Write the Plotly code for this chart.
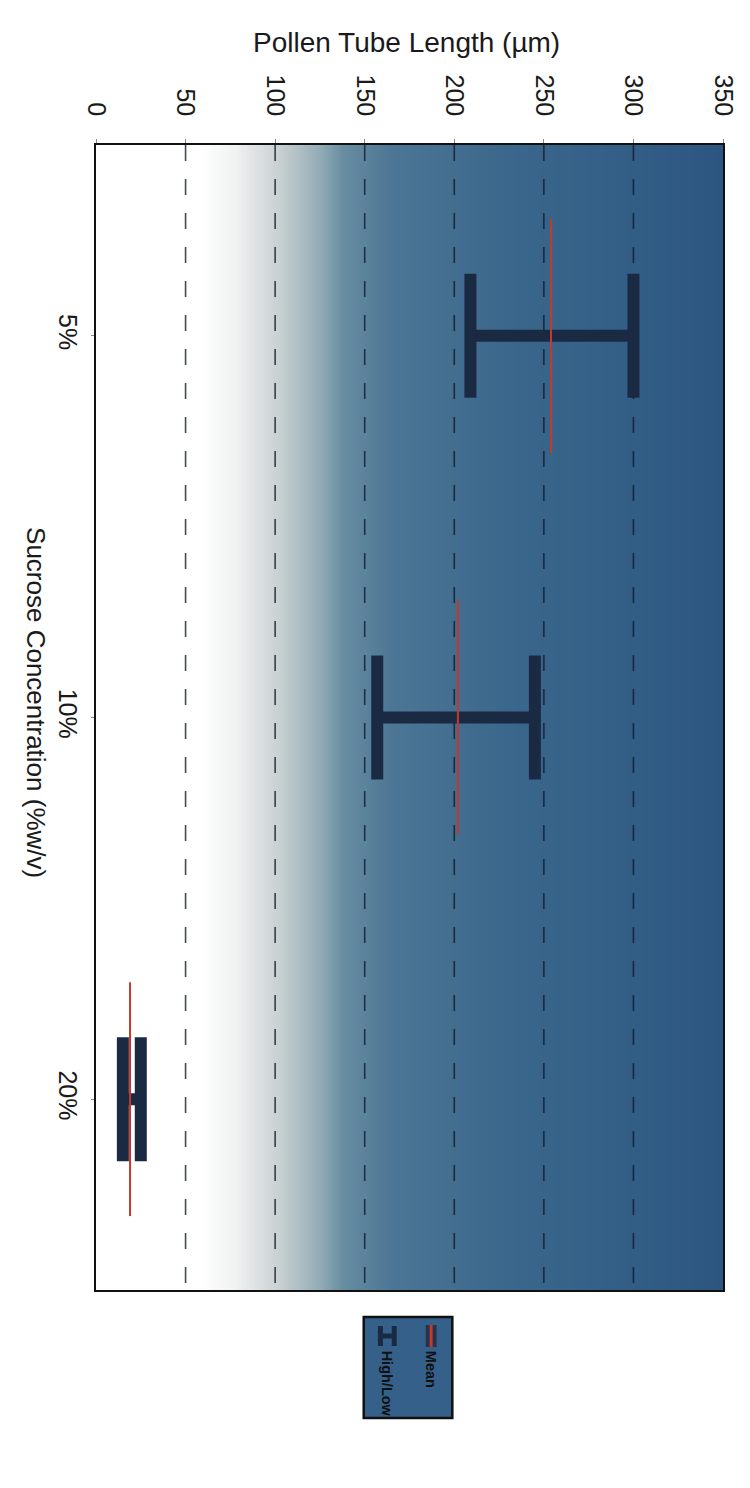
import numpy as np
import plotly.graph_objects as go

# ---- data ----
categories = ["5%", "10%", "20%"]
mean_len = [254, 202, 19]
high_len = [300, 245, 25]
low_len = [209, 157, 15]
value_ticks = [0, 50, 100, 150, 200, 250, 300, 350]
grid_vals = [50, 100, 150, 200, 250, 300]
legend_labels = ["Mean", "High/Low"]

# ---- geometry (pixels) ----
W, H = 750, 1488
L, R, T, B = 96, 733, 145, 1290
def px(xp):
    return (xp - L) / (R - L)
def py(yp):
    return (B - yp) / (B - T)

FONT = "Liberation Sans, Arial, Helvetica, sans-serif"
NAVY = "#1b2a43"
RED = "#c23a2c"

cat_idx = list(range(len(categories)))
fig = go.Figure()

# background gradient (white -> halftone grey -> steel blue)
gx = np.linspace(-5, 355, 361)
fig.add_trace(go.Heatmap(
    x=gx, y=[-0.7, 2.7], z=[gx, gx], zmin=0, zmax=350, zsmooth="best",
    colorscale=[[0.0, "#ffffff"], [58/350, "#ffffff"], [78/350, "#f0f1f1"],
                [102/350, "#c9d0d2"], [124/350, "#95adb7"], [138/350, "#678da1"],
                [165/350, "#4c7695"], [230/350, "#3b678c"], [1.0, "#2c5680"]],
    showscale=False, hoverinfo="skip"))

# dashed gridlines
for g in grid_vals:
    fig.add_trace(go.Scatter(
        x=[g, g], y=[-0.5, 2.5], mode="lines",
        line=dict(color="rgba(18,28,45,0.8)", width=1.6, dash="16px,18px"),
        showlegend=False, hoverinfo="skip"))

# high/low bars with mean tick
fig.add_trace(go.Scatter(
    x=mean_len, y=cat_idx, mode="markers",
    error_x=dict(type="data", symmetric=False,
                 array=[h - m for h, m in zip(high_len, mean_len)],
                 arrayminus=[m - l for m, l in zip(mean_len, low_len)],
                 thickness=12, width=62, color=NAVY),
    marker=dict(symbol="line-ns", size=167, color=RED,
                line=dict(width=2, color=RED)),
    showlegend=False, hoverinfo="skip"))

fig.update_layout(
    width=W, height=H, margin=dict(l=L, r=W - R, t=T, b=H - B),
    paper_bgcolor="white", plot_bgcolor="white",
    font=dict(family=FONT, color="#1a1a1a"),
    showlegend=False,
    xaxis=dict(range=[0, 350], side="top", tickvals=value_ticks,
               ticktext=[str(v) for v in value_ticks], tickangle=90,
               tickfont=dict(size=25, family=FONT, color="#1a1a1a"),
               showgrid=False, zeroline=False,
               showline=True, linecolor="#111", linewidth=2, mirror=True,
               ticks="outside", ticklen=4, tickcolor="#888",
               ticklabelstandoff=14),
    yaxis=dict(range=[2.5, -0.5], tickvals=cat_idx, ticktext=categories,
               tickangle=90, tickfont=dict(size=25, family=FONT, color="#1a1a1a"),
               showgrid=False, zeroline=False,
               showline=True, linecolor="#111", linewidth=2, mirror=True,
               ticks="outside", ticklen=3, tickcolor="#888",
               ticklabelstandoff=2),
)

annotations = [
    dict(text="Pollen Tube Length (µm)", x=px(411), y=py(42), xref="paper", yref="paper",
         showarrow=False, font=dict(size=28, family=FONT, color="#1a1a1a"),
         xanchor="center", yanchor="middle"),
    dict(text="Sucrose Concentration (%w/v)", x=px(35), y=py(703), xref="paper", yref="paper",
         showarrow=False, textangle=90, font=dict(size=26, family=FONT, color="#1a1a1a"),
         xanchor="center", yanchor="middle"),
]

# legend (rotated, drawn manually)
shapes = [dict(type="rect", xref="paper", yref="paper",
               x0=px(368), x1=px(458), y0=py(1317), y1=py(1418),
               fillcolor="#34608a", line=dict(color="#111", width=2.5), layer="above")]
# Mean swatch
shapes.append(dict(type="rect", xref="paper", yref="paper",
                   x0=px(431), x1=px(442), y0=py(1325), y1=py(1347),
                   fillcolor="#26334a", line=dict(width=0), layer="above"))
shapes.append(dict(type="line", xref="paper", yref="paper",
                   x0=px(436.5), x1=px(436.5), y0=py(1325), y1=py(1347),
                   line=dict(color=RED, width=3), layer="above"))
# High/Low swatch
for xc in (385, 399):
    shapes.append(dict(type="line", xref="paper", yref="paper",
                       x0=px(xc), x1=px(xc), y0=py(1326), y1=py(1346),
                       line=dict(color=NAVY, width=5), layer="above"))
shapes.append(dict(type="line", xref="paper", yref="paper",
                   x0=px(385), x1=px(399), y0=py(1336), y1=py(1336),
                   line=dict(color=NAVY, width=5), layer="above"))

for lbl, xc in zip(legend_labels, (437, 392)):
    annotations.append(dict(text="<b>" + lbl + "</b>", x=px(xc), y=py(1349),
                            xref="paper", yref="paper", showarrow=False, textangle=90,
                            font=dict(size=14.5, family=FONT, color="#111"),
                            xanchor="center", yanchor="top"))

fig.update_layout(annotations=annotations, shapes=shapes)
fig.write_html("out.html")
